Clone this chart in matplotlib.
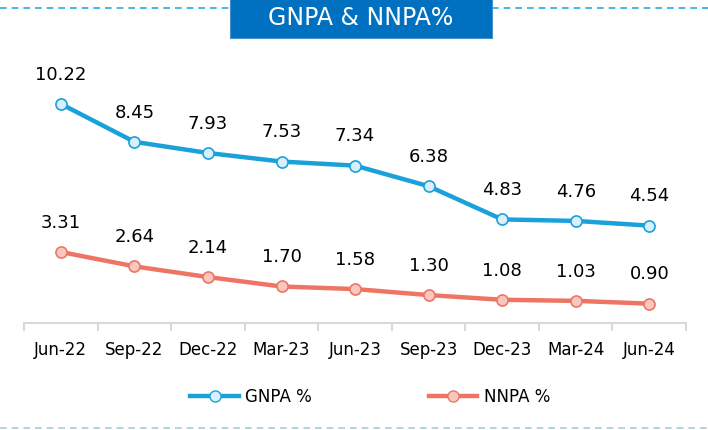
import numpy as np
import matplotlib
matplotlib.use('Agg')
import matplotlib.pyplot as plt
from matplotlib.patches import Rectangle
from matplotlib.lines import Line2D

quarters = ['Jun-22', 'Sep-22', 'Dec-22', 'Mar-23', 'Jun-23', 'Sep-23', 'Dec-23', 'Mar-24', 'Jun-24']
gnpa = [10.22, 8.45, 7.93, 7.53, 7.34, 6.38, 4.83, 4.76, 4.54]
nnpa = [3.31, 2.64, 2.14, 1.70, 1.58, 1.30, 1.08, 1.03, 0.90]

gnpa_col = '#1BA1DA'
gnpa_face = '#D8F0FB'
nnpa_col = '#EE7564'
nnpa_face = '#F8C8BE'

fig = plt.figure(figsize=(7.08, 4.30), dpi=100)
ax = fig.add_axes([0.034, 0.249, 0.935, 0.623])

x = np.arange(len(quarters))
ax.plot(x, gnpa, '-o', color=gnpa_col, lw=3.2, ms=8, mfc=gnpa_face, mec=gnpa_col, mew=1.2)
ax.plot(x, nnpa, '-o', color=nnpa_col, lw=3.2, ms=8, mfc=nnpa_face, mec=nnpa_col, mew=1.2)

for i in range(len(quarters)):
    ax.annotate('%.2f' % gnpa[i], (x[i], gnpa[i]), xytext=(0, 21), textcoords='offset points',
                ha='center', va='center', fontsize=13)
    ax.annotate('%.2f' % nnpa[i], (x[i], nnpa[i]), xytext=(0, 21), textcoords='offset points',
                ha='center', va='center', fontsize=13)

ax.set_xlim(-0.5, len(quarters) - 0.5)
ax.set_ylim(0, 12.5)
ax.set_yticks([])
ax.set_xticks(x)
ax.set_xticklabels(quarters, fontsize=12)
ax.set_xticks(np.arange(-0.5, len(quarters), 1), minor=True)
ax.tick_params(axis='x', which='major', length=0, pad=13)
ax.tick_params(axis='x', which='minor', length=6, color='#D9D9D9', width=1.5)
for s in ['top', 'right', 'left']:
    ax.spines[s].set_visible(False)
ax.spines['bottom'].set_color('#D9D9D9')
ax.spines['bottom'].set_linewidth(1.5)

# legend
handles = [Line2D([], [], color=gnpa_col, lw=3.2, marker='o', ms=8, mfc=gnpa_face, mec=gnpa_col),
           Line2D([], [], color=nnpa_col, lw=3.2, marker='o', ms=8, mfc=nnpa_face, mec=nnpa_col)]
fig.legend(handles, ['GNPA %', 'NNPA %'], loc='center', bbox_to_anchor=(0.523, 0.077), ncol=2,
           frameon=False, fontsize=12, handlelength=2.9, handletextpad=0.4, columnspacing=7.0)

# title box and dashed rules
fig.add_artist(Line2D([0, 0.325], [0.981, 0.981], color='#2AA8E0', lw=1.2, ls=(0, (4, 3)),
                      transform=fig.transFigure))
fig.add_artist(Line2D([0.695, 1.0], [0.981, 0.981], color='#2AA8E0', lw=1.2, ls=(0, (4, 3)),
                      transform=fig.transFigure))
fig.add_artist(Line2D([0, 1.0], [0.005, 0.005], color='#9CCFE0', lw=1.2, ls=(0, (4, 3)),
                      transform=fig.transFigure))
fig.add_artist(Rectangle((0.325, 0.912), 0.370, 0.09, facecolor='#0070C0',
                         edgecolor='#4A90C8', lw=0.8, transform=fig.transFigure))
fig.text(0.51, 0.958, 'GNPA & NNPA%', color='white', fontsize=17, ha='center', va='center',
         family='Liberation Sans Narrow')

fig.savefig('out.png', dpi=100)
